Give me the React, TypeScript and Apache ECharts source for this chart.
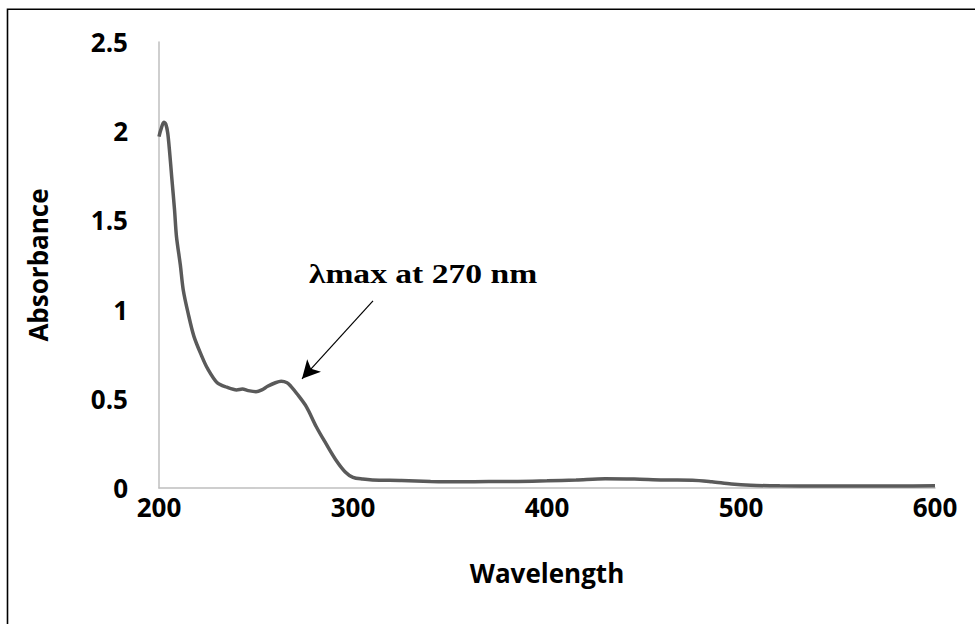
import React, { useEffect, useRef } from "react";
import * as echarts from "echarts";

const wavelengths: number[] = [
  200, 201, 202.5, 203.5, 204.5, 205.5, 206.5, 208, 209, 211, 212.5, 215, 218, 222, 225,
  230, 235, 240, 243, 246, 250, 253, 256, 260, 263, 266, 268, 271, 276, 281, 286, 291,
  296, 300, 305, 310, 325, 340, 355, 370, 385, 400, 415, 430, 445, 460, 475, 485, 495,
  505, 520, 540, 560, 580, 600,
];
const absorbance: number[] = [
  1.97, 2.01, 2.05, 2.04, 1.99, 1.88, 1.75, 1.56, 1.41, 1.25, 1.11, 0.98, 0.85, 0.74, 0.67,
  0.59, 0.565, 0.55, 0.555, 0.546, 0.54, 0.55, 0.57, 0.59, 0.598, 0.59, 0.57, 0.53, 0.455,
  0.345, 0.25, 0.16, 0.09, 0.06, 0.05, 0.045, 0.042, 0.037, 0.035, 0.036, 0.037, 0.04,
  0.045, 0.052, 0.05, 0.045, 0.044, 0.035, 0.022, 0.015, 0.012, 0.011, 0.011, 0.011, 0.012,
];
const xTicks = { min: 200, max: 600, interval: 100 };
const yTicks = { min: 0, max: 2.5, interval: 0.5 };
const annotationText = "λmax at 270 nm";
const arrowStart: [number, number] = [310.3, 1.049];
const arrowEnd: [number, number] = [273.7, 0.612];

export default function App() {
  const ref = useRef<HTMLDivElement>(null);
  useEffect(() => {
    if (!ref.current) return;
    const chart = echarts.init(ref.current, null, { renderer: "svg" });
    const labelFont = {
      fontFamily: "Open Sans",
      fontWeight: "bold" as const,
      fontSize: 26,
      color: "#000",
    };
    chart.setOption({
      animation: false,
      backgroundColor: "#fff",
      grid: { left: 159, right: 40, top: 42, bottom: 136 },
      xAxis: {
        type: "value",
        min: xTicks.min,
        max: xTicks.max,
        interval: xTicks.interval,
        name: "Wavelength",
        nameLocation: "middle",
        nameGap: 72,
        nameTextStyle: { ...labelFont },
        axisLine: { show: true, lineStyle: { color: "#BFBFBF", width: 1.5 } },
        axisTick: { show: false },
        splitLine: { show: false },
        axisLabel: { ...labelFont, margin: 6 },
      },
      yAxis: {
        type: "value",
        min: yTicks.min,
        max: yTicks.max,
        interval: yTicks.interval,
        name: "Absorbance",
        nameLocation: "middle",
        nameGap: 108,
        nameTextStyle: { ...labelFont },
        axisLine: { show: true, lineStyle: { color: "#BFBFBF", width: 1.5 } },
        axisTick: { show: false },
        splitLine: { show: false },
        axisLabel: { ...labelFont, margin: 31 },
      },
      series: [
        {
          type: "line",
          data: wavelengths.map((w, i) => [w, absorbance[i]]),
          showSymbol: false,
          smooth: 0.3,
          lineStyle: { color: "#5a5a5a", width: 3.5 },
          itemStyle: { color: "#5a5a5a" },
          markLine: {
            silent: true,
            symbol: ["none", "arrow"],
            symbolSize: [14, 18],
            label: { show: false },
            lineStyle: { color: "#000", width: 1.2, type: "solid" },
            data: [[{ coord: arrowStart }, { coord: arrowEnd }]],
          },
        },
      ],
      graphic: [
        {
          type: "rect",
          shape: { x: 7.5, y: 9.3, width: 1100, height: 800 },
          style: { fill: "none", stroke: "#000", lineWidth: 1.6 },
          silent: true,
        },
        {
          type: "text",
          x: 423,
          y: 273,
          scaleX: 1.2,
          style: {
            text: annotationText,
            font: "bold 28px 'Liberation Serif', 'Times New Roman', serif",
            fill: "#000",
            textAlign: "center",
            textVerticalAlign: "middle",
          },
        },
      ],
    });
    return () => chart.dispose();
  }, []);
  return (
    <div
      ref={ref}
      style={{ position: "fixed", left: 0, top: 0, width: 975, height: 624 }}
    />
  );
}
